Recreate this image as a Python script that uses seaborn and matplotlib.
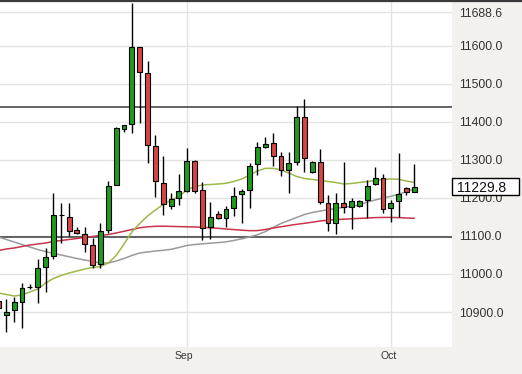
import matplotlib
matplotlib.use("Agg")
import matplotlib.pyplot as plt
import matplotlib.transforms as mtransforms
from matplotlib.lines import Line2D
from matplotlib.patches import Rectangle
import numpy as np
import pandas as pd
import seaborn as sns

# ---- data ----
opens = [10930.0, 10892.1, 10905.3, 10927.1, 10966.0, 10965.0, 11019.2, 11047.4, 11155.0, 11150.8,
         11115.8, 11105.3, 11076.3, 11026.3, 11115.8, 11234.2, 11380.8, 11394.7, 11596.6, 11528.2,
         11336.8, 11240.3, 11178.9, 11199.2, 11219.2, 11297.4, 11221.1, 11122.9, 11157.9, 11146.6,
         11172.9, 11209.7, 11221.1, 11289.5, 11333.4, 11343.9, 11310.5, 11273.7, 11293.9, 11412.4,
         11267.6, 11295.5, 11186.0, 11133.4, 11186.0, 11177.1, 11178.9, 11194.7, 11236.8, 11253.4,
         11172.9, 11192.1, 11225.5, 11216.6]
highs = [10952.0, 10933.4, 10940.3, 10977.1, 10973.7, 11038.7, 11067.6, 11213.9, 11187.6, 11187.6,
         11124.5, 11124.5, 11094.0, 11135.0, 11245.5, 11386.0, 11392.0, 11713.9, 11597.5, 11561.3,
         11365.8, 11310.5, 11212.4, 11263.2, 11331.6, 11300.0, 11242.9, 11190.3, 11165.8, 11178.9,
         11228.2, 11222.9, 11292.9, 11348.2, 11359.7, 11371.8, 11321.8, 11320.3, 11442.1, 11459.7,
         11297.0, 11328.9, 11207.9, 11212.4, 11295.5, 11200.0, 11196.0, 11247.4, 11280.8, 11262.4,
         11195.0, 11317.6, 11229.7, 11289.5]
lows = [10880.0, 10848.2, 10872.9, 10857.1, 10959.7, 10924.5, 10953.4, 11038.7, 11080.8, 11100.0,
        11105.3, 11058.7, 11015.0, 11015.0, 11107.1, 11233.0, 11374.5, 11370.3, 11396.6, 11291.3,
        11203.4, 11155.3, 11170.3, 11181.6, 11215.0, 11213.0, 11089.5, 11091.3, 11143.9, 11122.9,
        11152.6, 11133.4, 11172.9, 11260.5, 11330.8, 11284.2, 11257.9, 11213.9, 11286.8, 11269.2,
        11266.0, 11183.4, 11113.9, 11105.3, 11159.7, 11117.6, 11176.0, 11146.6, 11235.0, 11159.7,
        11136.0, 11149.2, 11207.9, 11215.0]
closes = [10910.0, 10899.2, 10927.1, 10962.4, 10967.0, 11015.0, 11043.9, 11155.3, 11156.0, 11113.2,
          11108.7, 11079.0, 11023.7, 11113.9, 11231.6, 11385.0, 11391.3, 11596.6, 11531.6, 11338.7,
          11245.5, 11184.2, 11196.6, 11219.2, 11297.4, 11219.2, 11120.3, 11150.8, 11146.6, 11170.3,
          11206.1, 11218.4, 11285.0, 11333.4, 11342.1, 11311.3, 11273.7, 11291.3, 11412.4, 11304.5,
          11293.9, 11188.7, 11133.4, 11186.0, 11177.1, 11192.9, 11192.1, 11232.4, 11253.4, 11171.1,
          11187.6, 11209.7, 11216.6, 11229.8]

ma_short = [10950.0, 10946.1, 10942.1, 10944.7, 10952.7, 10960.5, 10976.3, 10988.1, 10996.0, 11002.6,
            11007.9, 11013.1, 11017.1, 11019.7, 11029.0, 11048.7, 11078.9, 11110.5, 11132.9, 11152.6,
            11168.4, 11182.9, 11194.7, 11203.9, 11221.1, 11230.3, 11234.2, 11235.5, 11236.8, 11238.7,
            11243.4, 11250.0, 11260.5, 11271.0, 11278.1, 11278.1, 11273.7, 11265.8, 11256.6, 11251.3,
            11248.7, 11246.0, 11243.4, 11240.8, 11236.8, 11238.2, 11240.8, 11243.4, 11246.0, 11248.7,
            11250.0, 11249.2, 11244.7, 11240.8]
ma_mid = [11097.4, 11090.8, 11084.2, 11077.6, 11071.1, 11064.5, 11059.2, 11053.9, 11050.0, 11045.3,
          11040.8, 11036.9, 11032.9, 11029.0, 11029.0, 11034.2, 11040.8, 11048.7, 11055.3, 11057.9,
          11060.5, 11062.4, 11065.0, 11069.7, 11075.0, 11077.6, 11079.5, 11081.1, 11082.6, 11084.7,
          11088.2, 11092.6, 11097.4, 11103.2, 11111.4, 11122.4, 11132.9, 11140.8, 11148.7, 11156.6,
          11161.8, 11165.8, 11169.0, 11172.4, 11175.5, 11178.2, 11181.6, 11189.5, 11194.7, 11200.0,
          11204.5, 11209.7, 11217.1, 11223.7]
ma_long = [11061.8, 11065.8, 11068.4, 11072.4, 11076.3, 11078.9, 11081.6, 11085.5, 11088.2, 11090.8,
           11093.4, 11096.1, 11098.7, 11101.3, 11104.0, 11107.9, 11112.4, 11117.1, 11121.6, 11124.2,
           11125.5, 11125.8, 11125.3, 11124.7, 11124.2, 11123.7, 11122.9, 11121.6, 11120.3, 11118.4,
           11116.9, 11115.3, 11114.0, 11114.2, 11117.1, 11121.1, 11124.2, 11127.6, 11130.8, 11133.4,
           11136.3, 11139.5, 11141.6, 11143.2, 11144.2, 11145.3, 11146.3, 11147.4, 11148.4, 11148.9,
           11148.9, 11148.4, 11147.4, 11146.6]

level_lines = [11439.5, 11096.6]
ytick_values = [10900.0, 11000.0, 11100.0, 11200.0, 11300.0, 11400.0, 11500.0, 11600.0, 11688.6]
month_labels = ["Sep", "Oct"]
month_index = [24, 50]

# ---- styling ----
sns.set_theme(style="white")
plt.rcParams['font.family'] = ['Liberation Sans', 'DejaVu Sans']

GREEN = '#1f9c1f'
RED = '#d64545'
PANEL = '#f3f1ed'

fig = plt.figure(figsize=(5.22, 3.74), dpi=100, facecolor=PANEL)
ax = fig.add_axes([0, 27 / 374, 452 / 522, 346 / 374])
ax.set_facecolor('white')

n = len(opens)
df = pd.DataFrame({
    'idx': np.arange(n), 'open': opens, 'high': highs, 'low': lows, 'close': closes,
    'ma_short': ma_short, 'ma_mid': ma_mid, 'ma_long': ma_long,
})

# grid
ax.set_yticks(ytick_values)
ax.set_yticklabels([f"{v:.1f}" for v in ytick_values])
ax.set_xticks(month_index)
ax.set_xticklabels(month_labels)
ax.grid(True, color='#e3e3e3', lw=1)
ax.set_axisbelow(True)

# support / resistance
for lv in level_lines:
    ax.axhline(lv, color='#3a3a3a', lw=1.1, zorder=2)

# moving averages
sns.lineplot(data=df, x='idx', y='ma_mid', ax=ax, color='#9a9a9a', lw=1.1, zorder=3)
sns.lineplot(data=df, x='idx', y='ma_long', ax=ax, color='#c8354a', lw=1.1, zorder=3)
sns.lineplot(data=df, x='idx', y='ma_short', ax=ax, color='#9cb84a', lw=1.1, zorder=3)

# candles
up = df['close'] >= df['open']
colors = np.where(up, GREEN, RED)
body_bottom = np.minimum(df['open'], df['close'])
body_h = np.maximum(np.abs(df['close'] - df['open']), 0.8)
ax.vlines(df['idx'], df['low'], df['high'], color='black', lw=1.0, zorder=4)
ax.bar(df['idx'], body_h, bottom=body_bottom, width=0.62, color=colors,
       edgecolor='black', lw=0.8, zorder=5)

ax.set_xlim(0.197, 57.8)
ax.set_ylim(10807.9, 11718.4)
ax.set_xlabel('')
ax.set_ylabel('')
for s in ax.spines.values():
    s.set_visible(False)

ax.yaxis.tick_right()
ax.tick_params(axis='y', length=0, pad=5, labelsize=8.8, labelcolor='#333333')
ax.tick_params(axis='x', length=0, pad=3, labelsize=7.5, labelcolor='#333333')
for lbl in ax.get_xticklabels():
    lbl.set_transform(lbl.get_transform() + mtransforms.ScaledTranslation(-2.5 / 100, 0, fig.dpi_scale_trans))

# last price box
last = closes[-1]
blend = mtransforms.blended_transform_factory(ax.transAxes, ax.transData)
box = Rectangle((1.0006, last - 22.4), 0.148, 44.8, transform=blend, facecolor='white',
                edgecolor='black', lw=1, clip_on=False, zorder=20)
ax.add_patch(box)
ax.text(1.0117, last, f"{last:.1f}", transform=blend, ha='left', va='center_baseline',
        fontsize=10, color='#111111', clip_on=False, zorder=21)

# top border line
fig.add_artist(Line2D([0, 1], [1 - 0.8 / 374, 1 - 0.8 / 374], transform=fig.transFigure,
                      color='#3a3a3a', lw=1.6))

fig.savefig('out.png', dpi=100, facecolor=PANEL)
